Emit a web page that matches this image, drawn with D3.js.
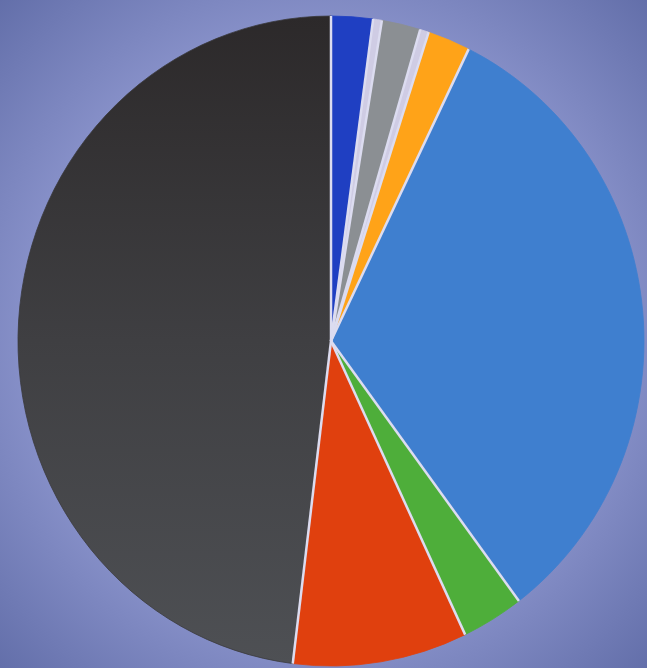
<!DOCTYPE html>
<html><head><meta charset="utf-8">
<script src="https://cdn.jsdelivr.net/npm/d3@7/dist/d3.min.js"></script>
<style>html,body{margin:0;padding:0;overflow:hidden;background:#7680b8}</style>
</head><body>
<script>
const categories = ["Dark blue","Light","Gray","Light 2","Orange","Blue","Green","Red","Dark gray"];
const values = [2.15, 0.45, 2.0, 0.45, 2.2, 32.5, 3.2, 9.0, 48.05];
const colors = ["#1f3fc2","#cfcce4","#8b8f93","#cfcce4","#ffa318","#3f7fcf","#4eae3a","#e0400e","url(#darkGrad)"];

const W = 647, H = 668;
const svg = d3.select("body").append("svg").attr("width", W).attr("height", H);
const defs = svg.append("defs");
const bg = defs.append("radialGradient").attr("id","bgGrad").attr("cx","50%").attr("cy","50%").attr("r","72%");
bg.append("stop").attr("offset","0%").attr("stop-color","#aab1e2");
bg.append("stop").attr("offset","60%").attr("stop-color","#8b94cc");
bg.append("stop").attr("offset","100%").attr("stop-color","#616da8");
svg.append("rect").attr("width",W).attr("height",H).attr("fill","url(#bgGrad)");

const dg = defs.append("linearGradient").attr("id","darkGrad").attr("x1","0").attr("y1","0").attr("x2","0").attr("y2","1");
dg.append("stop").attr("offset","0%").attr("stop-color","#2c292a");
dg.append("stop").attr("offset","50%").attr("stop-color","#3f3f42");
dg.append("stop").attr("offset","100%").attr("stop-color","#4e5054");

const cx = 331, cy = 341, r = 313, sy = 325/313;
const pie = d3.pie().sort(null).value(d => d)(values);
const arc = d3.arc().innerRadius(0).outerRadius(r);
const g = svg.append("g").attr("transform", `translate(${cx},${cy}) scale(1,${sy})`);
g.selectAll("path.slice").data(pie).join("path")
  .attr("class","slice")
  .attr("d", arc)
  .attr("fill", (d,i) => colors[i])
  .attr("stroke", (d,i) => colors[i].startsWith("url") ? "#3a3a3d" : colors[i])
  .attr("stroke-width", 0.8);
// radial separators
g.selectAll("line.sep").data(pie).join("line")
  .attr("class","sep")
  .attr("x1",0).attr("y1",0)
  .attr("x2", d => r * Math.sin(d.startAngle))
  .attr("y2", d => -r * Math.cos(d.startAngle))
  .attr("stroke","#dcdcf0")
  .attr("stroke-width",2.5)
  .attr("vector-effect","non-scaling-stroke");
</script>
</body></html>
